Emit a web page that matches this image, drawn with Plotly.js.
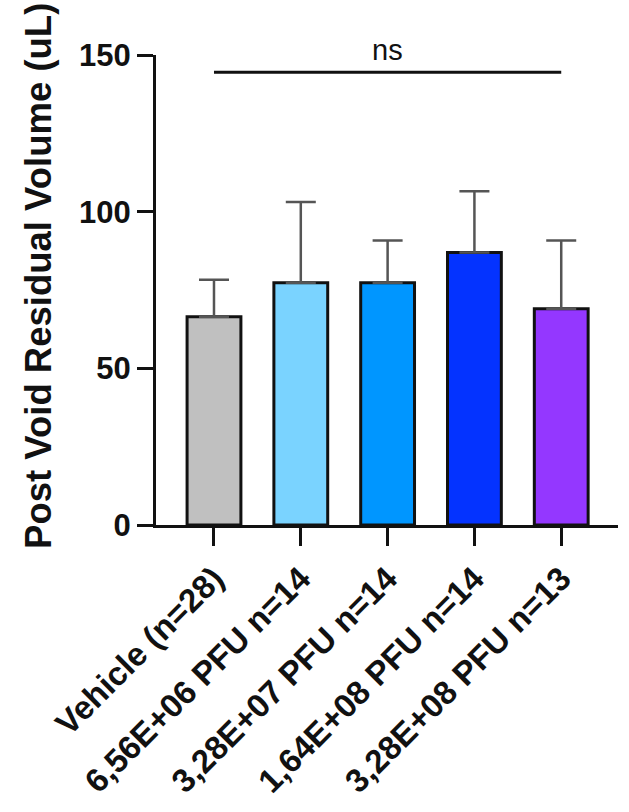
<!DOCTYPE html>
<html>
<head>
<meta charset="utf-8">
<script src="https://cdn.plot.ly/plotly-3.0.1.min.js"></script>
<style>html,body{margin:0;padding:0;background:#fff;}#chart{width:629px;height:812px;}</style>
</head>
<body>
<div id="chart"></div>
<script>
const categories = ["Vehicle (n=28)", "6,56E+06 PFU n=14", "3,28E+07 PFU n=14", "1,64E+08 PFU n=14", "3,28E+08 PFU n=13"];
const means = [66.5, 77.3, 77.3, 87.0, 69.0];
const errUpper = [11.8, 25.8, 13.5, 19.5, 21.8];
const barColors = ["#c0c0c0", "#7ad3ff", "#0096ff", "#0433ff", "#9437ff"];
const yTicks = [0, 50, 100, 150];
const yTitle = "Post Void Residual Volume (uL)";
const sigLabel = "ns";
const sigLineY = 144.5;

const font = "Liberation Sans, Arial, Helvetica, sans-serif";
const xRange = [-0.668, 4.654];

const trace = {
  type: "bar",
  x: categories,
  y: means,
  width: 0.62,
  marker: { color: barColors, line: { color: "#111", width: 3 } },
  error_y: { type: "data", symmetric: false, array: errUpper, arrayminus: means.map(() => 0), color: "#555", thickness: 2.5, width: 15 },
  hoverinfo: "none"
};

const layout = {
  width: 629, height: 812,
  margin: { l: 156, r: 11, t: 55, b: 286.5 },
  paper_bgcolor: "#fff", plot_bgcolor: "#fff",
  showlegend: false,
  xaxis: {
    type: "category",
    range: xRange,
    showline: true, linecolor: "#111", linewidth: 3,
    ticks: "outside", ticklen: 18, tickwidth: 3, tickcolor: "#111",
    tickangle: -45,
    tickfont: { family: font, size: 33, color: "#111", weight: 700 },
    showgrid: false, zeroline: false, fixedrange: true, automargin: false
  },
  yaxis: {
    range: [0, 150],
    tickvals: yTicks, ticktext: yTicks.map(String),
    showline: true, linecolor: "#111", linewidth: 3,
    ticks: "outside", ticklen: 16, tickwidth: 3, tickcolor: "#111",
    tickfont: { family: font, size: 31, color: "#111", weight: 700 },
    showgrid: false, zeroline: false, fixedrange: true, automargin: false
  },
  shapes: [
    { type: "line", xref: "x", yref: "y", x0: 0, x1: categories.length - 1, y0: sigLineY, y1: sigLineY, line: { color: "#111", width: 3 } }
  ],
  annotations: [
    { xref: "paper", yref: "y", x: (2 - xRange[0]) / (xRange[1] - xRange[0]), y: sigLineY + 1.5, yanchor: "bottom", xanchor: "center", showarrow: false, text: sigLabel, font: { family: font, size: 29, color: "#111" } },
    { xref: "paper", yref: "paper", x: -117 / 462, y: 0.53, xanchor: "center", yanchor: "middle", textangle: -90, showarrow: false, text: yTitle, font: { family: font, size: 36.5, color: "#111", weight: 700 } }
  ]
};

Plotly.newPlot("chart", [trace], layout, { displayModeBar: false, staticPlot: true });
</script>
</body>
</html>
